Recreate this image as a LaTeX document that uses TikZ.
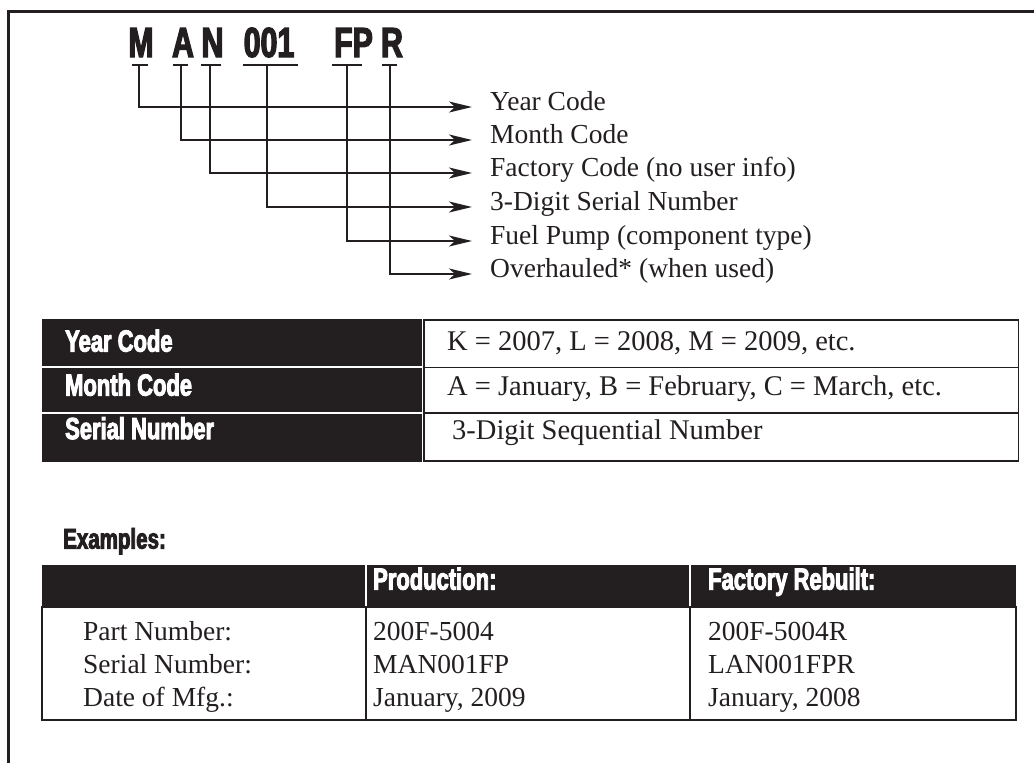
\documentclass[tikz,border=0pt]{standalone}
\usepackage{fontspec}
\setmainfont{Liberation Serif}
\newfontfamily\condfont[FakeStretch=0.72,FakeBold=3]{Liberation Sans Bold}
\usetikzlibrary{arrows.meta}
\definecolor{inkc}{RGB}{35,31,32}
\begin{document}
\begin{tikzpicture}[x=1pt,y=-1pt,
  codelet/.style={anchor=base,inner sep=0pt,font=\condfont\fontsize{42}{42}\selectfont,text=inkc},
  lab/.style={anchor=west,inner sep=0pt,text height=0.6em,text depth=0pt,font=\fontsize{27.5}{27.5}\selectfont,text=inkc},
  uline/.style={draw=inkc,line width=2pt},
  conn/.style={draw=inkc,line width=2pt,-{Stealth[length=23pt,width=11pt,inset=6pt]}},
  hdr/.style={anchor=west,inner sep=0pt,text height=0.72em,text depth=0pt,font=\condfont\fontsize{30.5}{30.5}\selectfont,text=white},
  cell/.style={anchor=west,inner sep=0pt,text height=0.66em,text depth=0pt,font=\fontsize{28.5}{28.5}\selectfont,text=inkc},
  ex/.style={anchor=base west,inner sep=0pt,font=\fontsize{27.5}{27.5}\selectfont,text=inkc},
  dark/.style={fill=inkc},
  grid/.style={draw=inkc,line width=1.6pt}]
\useasboundingbox (0,0) rectangle (1034,763);
% frame
\draw[inkc,line width=2.6pt] (1034,11.3) -- (8.3,11.3) -- (8.3,763);
% code letters
\node[codelet] (cM) at (141,57) {M};
\node[codelet] (cA) at (183,57) {A};
\node[codelet] (cN) at (212.5,57) {N};
\node[codelet] (c001) at (269,57) {001};
\node[codelet] (cFP) at (353.5,57) {FP};
\node[codelet] (cR) at (392,57) {R};
% underlines
\draw[uline] (132,65) -- (148,65);
\draw[uline] (173,65) -- (188,65);
\draw[uline] (201,65) -- (221,65);
\draw[uline] (243,65) -- (298,65);
\draw[uline] (332,65) -- (362,65);
\draw[uline] (382,65) -- (397,65);
\coordinate (tM) at (138.5,64);
\coordinate (tA) at (181,64);
\coordinate (tN) at (210,64);
\coordinate (t001) at (267,64);
\coordinate (tFP) at (347,64);
\coordinate (tR) at (389.5,64);
% labels
\node[lab] (l1) at (490,107) {Year Code};
\node[lab] (l2) at (490,140) {Month Code};
\node[lab] (l3) at (490,173) {Factory Code (no user info)};
\node[lab] (l4) at (490,207) {3-Digit Serial Number};
\node[lab] (l5) at (490,241) {Fuel Pump (component type)};
\node[lab] (l6) at (490,274) {Overhauled* (when used)};
% connectors
\draw[conn] (tM) |- ([xshift=-18pt]l1.west);
\draw[conn] (tA) |- ([xshift=-18pt]l2.west);
\draw[conn] (tN) |- ([xshift=-18pt]l3.west);
\draw[conn] (t001) |- ([xshift=-18pt]l4.west);
\draw[conn] (tFP) |- ([xshift=-18pt]l5.west);
\draw[conn] (tR) |- ([xshift=-18pt]l6.west);
% table 1
\fill[dark] (42,319) rectangle (422,366.4);
\fill[dark] (42,368.2) rectangle (422,412.2);
\fill[dark] (42,414) rectangle (422,462);
\draw[grid] (423.8,320) rectangle (1018.5,461.2);
\draw[grid] (423.8,367.3) -- (1018.5,367.3);
\draw[grid] (423.8,413.1) -- (1018.5,413.1);
\node[hdr] (h1) at (65,348) {Year Code};
\node[hdr] (h2) at (65,392) {Month Code};
\node[hdr] (h3) at (65,435.5) {Serial Number};
\node[cell] (v1) at (447,347) {K = 2007, L = 2008, M = 2009, etc.};
\node[cell] (v2) at (447,392) {A = January, B = February, C = March, etc.};
\node[cell] (v3) at (452,436) {3-Digit Sequential Number};
% examples
\node[anchor=west,inner sep=0pt,text height=0.72em,text depth=0pt,font=\condfont\fontsize{28.5}{28.5}\selectfont,text=inkc] (exh) at (63,545) {Examples:};
\fill[dark] (42,565) rectangle (1016,607);
\draw[white,line width=1.6pt] (366,565) -- (366,607);
\draw[white,line width=1.6pt] (690,565) -- (690,607);
\draw[grid,line width=2pt] (42,607) rectangle (1016,720);
\draw[grid] (366,607) -- (366,720);
\draw[grid] (690,607) -- (690,720);
\node[hdr] (p1) at (373,586) {Production:};
\node[hdr] (p2) at (708,586) {Factory Rebuilt:};
\node[ex] (r1a) at (83,640) {Part Number:};
\node[ex] (r2a) at (83,673) {Serial Number:};
\node[ex] (r3a) at (83,706) {Date of Mfg.:};
\node[ex] (r1b) at (373,640) {200F-5004};
\node[ex] (r2b) at (373,673) {MAN001FP};
\node[ex] (r3b) at (373,706) {January, 2009};
\node[ex] (r1c) at (708,640) {200F-5004R};
\node[ex] (r2c) at (708,673) {LAN001FPR};
\node[ex] (r3c) at (708,706) {January, 2008};
\end{tikzpicture}
\end{document}
